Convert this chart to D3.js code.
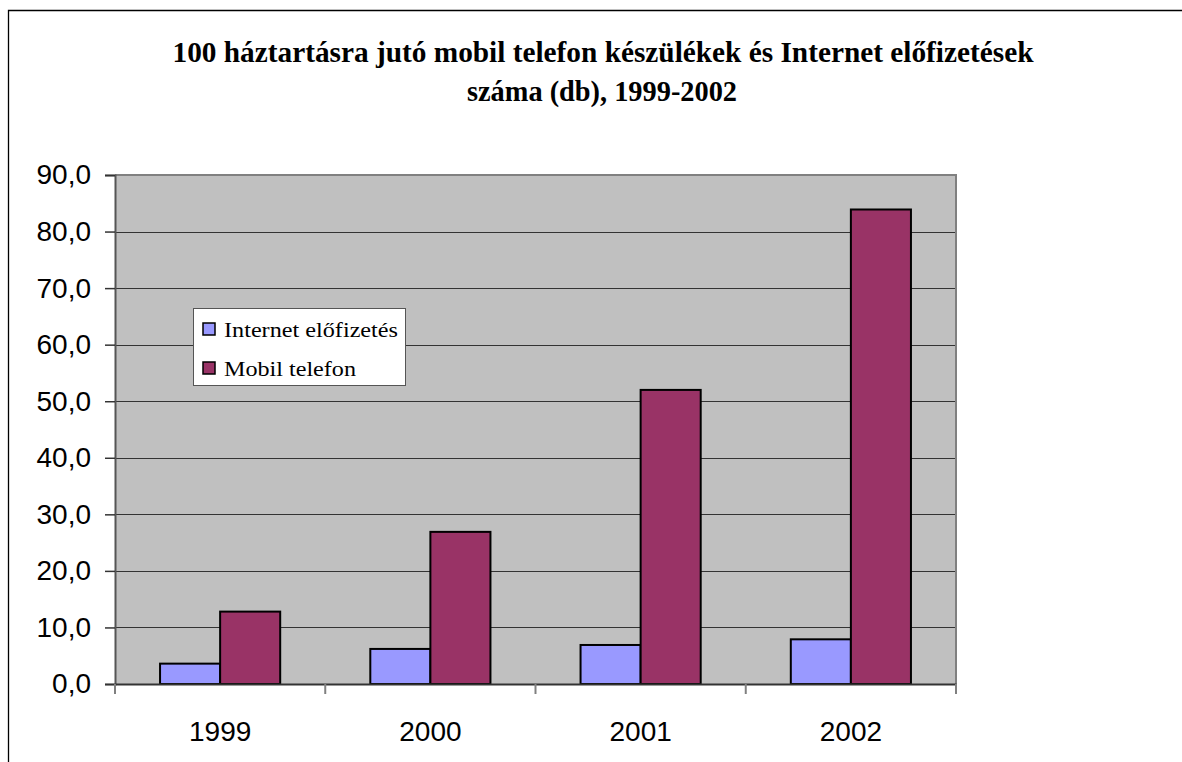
<!DOCTYPE html>
<html><head><meta charset="utf-8">
<script src="https://cdn.jsdelivr.net/npm/d3@7"></script>
<style>html,body{margin:0;padding:0;background:#fff;}svg{display:block;}</style>
</head><body>
<script>
const categories = ["1999", "2000", "2001", "2002"];
const seriesNames = ["Internet előfizetés", "Mobil telefon"];
const internetValues = [3.6, 6.2, 6.9, 7.9];
const mobilValues = [12.8, 26.9, 52.0, 83.9];
const yTicks = [0, 10, 20, 30, 40, 50, 60, 70, 80, 90];
const titleLines = ["100 háztartásra jutó mobil telefon készülékek és Internet előfizetések", "száma (db), 1999-2002"];
const colors = ["#9999FF", "#993366"];

const W = 1182, H = 762;
const svg = d3.select("body").append("svg").attr("width", W).attr("height", H);

// outer chart border (top & left visible)
svg.append("path").attr("d", "M8.5,762 L8.5,10.5 L1182,10.5").attr("fill","none").attr("stroke","#000").attr("stroke-width",1.3);

// title
const serif = "'Liberation Serif','Times New Roman',serif";
svg.append("text").attr("x", 603).attr("y", 62).attr("text-anchor","middle")
  .attr("font-family",serif).attr("font-weight","bold").attr("font-size",29)
  .attr("textLength", 861).attr("lengthAdjust","spacingAndGlyphs").text(titleLines[0]);
svg.append("text").attr("x", 602).attr("y", 101).attr("text-anchor","middle")
  .attr("font-family",serif).attr("font-weight","bold").attr("font-size",29)
  .attr("textLength", 270).attr("lengthAdjust","spacingAndGlyphs").text(titleLines[1]);

const plot = {x0:115, x1:956, y0:175, y1:684};
const y = d3.scaleLinear().domain([0,90]).range([plot.y1, plot.y0]);
const x = d3.scaleBand().domain(categories).range([plot.x0, plot.x1]).padding(0);
const bw = x.bandwidth();
const groupW = bw * 2 / 3.5, off = bw * 0.75 / 3.5;
const xs = d3.scaleBand().domain(seriesNames).range([0, groupW]).padding(0);

// plot area background
svg.append("rect").attr("x",plot.x0).attr("y",plot.y0).attr("width",plot.x1-plot.x0).attr("height",plot.y1-plot.y0)
  .attr("fill","#C0C0C0");

// gridlines
svg.append("g").selectAll("line").data(yTicks.filter(t=>t>0 && t<90)).join("line")
  .attr("x1",plot.x0).attr("x2",plot.x1).attr("y1",d=>Math.round(y(d))+0.5).attr("y2",d=>Math.round(y(d))+0.5)
  .attr("stroke","#333").attr("stroke-width",1);

// plot border (top & right)
svg.append("path").attr("d",`M${plot.x0},${plot.y0} L${plot.x1},${plot.y0} L${plot.x1},${plot.y1}`)
  .attr("fill","none").attr("stroke","#808080").attr("stroke-width",2);

// bars
const data = categories.map((c,i)=>({cat:c, vals:[internetValues[i], mobilValues[i]]}));
const g = svg.append("g");
data.forEach(d=>{
  d.vals.forEach((v,j)=>{
    g.append("rect")
      .attr("x", x(d.cat) + off + xs(seriesNames[j]))
      .attr("y", y(v))
      .attr("width", xs.bandwidth())
      .attr("height", y(0)-y(v))
      .attr("fill", colors[j]).attr("stroke","#000").attr("stroke-width",2);
  });
});

// y axis
const yAxis = d3.axisLeft(y).tickValues(yTicks).tickSize(10).tickPadding(14)
  .tickFormat(d=>d3.format(".1f")(d).replace(".",","));
const ya = svg.append("g").attr("transform",`translate(${plot.x0},0)`).call(yAxis);
ya.select(".domain").attr("stroke","#555").attr("stroke-width",2);
ya.selectAll(".tick line").attr("stroke","#333").attr("stroke-width",1.5);
ya.selectAll("text").attr("font-family","'Liberation Sans',Arial,sans-serif").attr("font-size",28).attr("fill","#000");

// x axis
const xAxis = d3.axisBottom(x).tickSize(0).tickPadding(37);
const xa = svg.append("g").attr("transform",`translate(0,${plot.y1})`).call(xAxis);
xa.select(".domain").attr("stroke","#333").attr("stroke-width",2);
xa.selectAll("text").attr("font-family","'Liberation Sans',Arial,sans-serif").attr("font-size",28).attr("fill","#000");
// boundary ticks between categories
const bounds = categories.map(c=>x(c)).concat([plot.x1]);
svg.append("g").selectAll("line").data(bounds).join("line")
  .attr("x1",d=>d).attr("x2",d=>d).attr("y1",plot.y1).attr("y2",plot.y1+10)
  .attr("stroke","#808080").attr("stroke-width",2);

// legend
const legendLens = [174, 132];
const lg = svg.append("g");
lg.append("rect").attr("x",193.5).attr("y",308.5).attr("width",212).attr("height",77)
  .attr("fill","#fff").attr("stroke","#555").attr("stroke-width",1);
seriesNames.forEach((s,i)=>{
  const yy = 323 + i*39;
  lg.append("rect").attr("x",203).attr("y",yy).attr("width",12).attr("height",12)
    .attr("fill",colors[i]).attr("stroke","#000").attr("stroke-width",1.5);
  lg.append("text").attr("x",224).attr("y",yy+14)
    .attr("font-family",serif).attr("font-size",22).attr("fill","#000")
    .attr("textLength", legendLens[i]).attr("lengthAdjust","spacingAndGlyphs").text(s);
});
</script>
</body></html>
